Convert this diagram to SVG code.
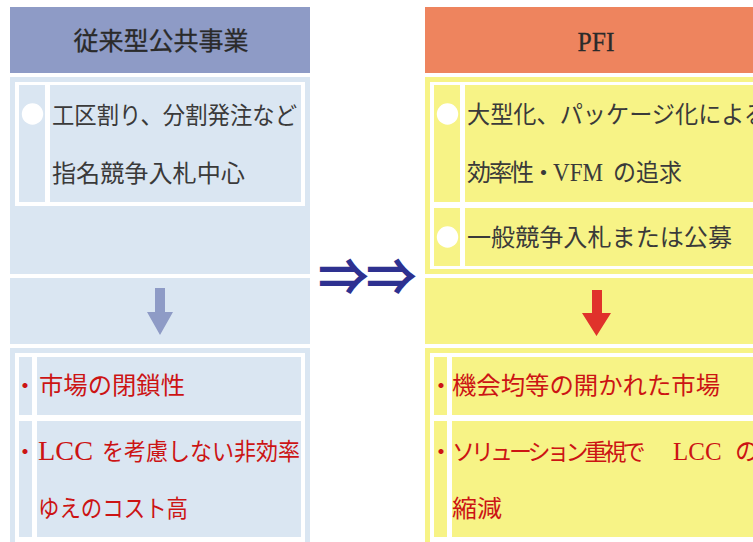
<svg xmlns="http://www.w3.org/2000/svg" width="753" height="542" viewBox="0 0 753 542">
<style>
.t{font-family:"Liberation Serif","Noto Sans CJK JP",serif;font-size:24px;fill:#3a3a3a}
.r{font-family:"Liberation Serif","Noto Sans CJK JP",serif;font-size:24px;fill:#cc1414}
.h{font-family:"Liberation Serif","Noto Sans CJK JP",serif;font-size:25px;fill:#2a2a2a;stroke:#2a2a2a;stroke-width:0.3}
.bl{fill:#dae6f2}
.ye{fill:#f7f386}
.w{fill:#ffffff}
</style>
<defs>
<clipPath id="cl"><rect x="37" y="421" width="264" height="116"/></clipPath>
</defs>
<rect width="753" height="542" fill="#ffffff"/>

<g id="left-header">
<rect x="10" y="7" width="300" height="66" fill="#8e9bc6"/>
<text class="h" x="161" y="50" text-anchor="middle">従来型公共事業</text>
</g>

<g id="left-current">
<rect class="bl" x="10" y="77" width="300" height="197"/>
<rect class="w" x="15" y="82" width="290" height="124"/>
<rect class="bl" x="19" y="85" width="26" height="117"/>
<rect class="bl" x="50" y="85" width="251" height="117"/>
<circle cx="32.5" cy="114" r="10.7" fill="#ffffff"/>
<text class="t" x="52" y="124" textLength="245" lengthAdjust="spacingAndGlyphs">工区割り、分割発注など</text>
<text class="t" x="52" y="182" textLength="193" lengthAdjust="spacingAndGlyphs">指名競争入札中心</text>
</g>

<g id="left-arrow-panel">
<rect class="bl" x="10" y="278" width="300" height="66"/>
<path d="M155,288 H165 V312 H173 L160,335 L147,312 H155 Z" fill="#8e9bc6"/>
</g>

<g id="left-result">
<rect class="bl" x="10" y="348" width="300" height="194"/>
<rect class="w" x="15" y="353" width="290" height="189"/>
<rect class="bl" x="19" y="357" width="13" height="58"/>
<rect class="bl" x="37" y="357" width="264" height="58"/>
<rect class="bl" x="19" y="421" width="13" height="116"/>
<rect class="bl" x="37" y="421" width="264" height="116"/>
<text class="r" x="25" y="394" text-anchor="middle">・</text>
<text class="r" x="39" y="394" textLength="146" lengthAdjust="spacingAndGlyphs">市場の閉鎖性</text>
<text class="r" x="25" y="460" text-anchor="middle">・</text>
<g clip-path="url(#cl)">
<text class="r" x="38" y="460" style="font-size:27px" textLength="55" lengthAdjust="spacingAndGlyphs">LCC</text>
<text class="r" x="102" y="460" textLength="198" lengthAdjust="spacingAndGlyphs">を考慮しない非効率</text>
</g>
<text class="r" x="38" y="517" textLength="150" lengthAdjust="spacingAndGlyphs">ゆえのコスト高</text>
</g>

<g id="connectors">
<text x="367" y="294" text-anchor="middle" font-family="Noto Sans CJK JP, sans-serif" font-size="48" fill="#2e3190" stroke="#2e3190" stroke-width="2">⇒⇒</text>
</g>

<g id="right-header">
<rect x="425" y="7" width="328" height="66" fill="#ee845e"/>
<text class="h" x="596" y="51" text-anchor="middle" style="font-size:28px" textLength="37" lengthAdjust="spacingAndGlyphs">PFI</text>
</g>

<g id="right-current">
<rect class="ye" x="425" y="77" width="328" height="197"/>
<rect class="w" x="430" y="82" width="323" height="187"/>
<rect class="ye" x="434" y="85" width="26" height="117"/>
<rect class="ye" x="465" y="85" width="288" height="117"/>
<rect class="ye" x="434" y="208" width="26" height="58"/>
<rect class="ye" x="465" y="208" width="288" height="58"/>
<circle cx="447.5" cy="114" r="10.7" fill="#ffffff"/>
<circle cx="447.5" cy="237" r="10.7" fill="#ffffff"/>
<text class="t" x="467" y="123" textLength="300" lengthAdjust="spacingAndGlyphs">大型化、パッケージ化による</text>
<text class="t" x="467" y="181" style="letter-spacing:-2.5px">効率性・</text>
<text class="t" x="553" y="181" style="font-size:26px" textLength="50" lengthAdjust="spacingAndGlyphs">VFM</text>
<text class="t" x="613" y="181" textLength="69" lengthAdjust="spacingAndGlyphs">の追求</text>
<text class="t" x="467" y="246" textLength="265" lengthAdjust="spacingAndGlyphs">一般競争入札または公募</text>
</g>

<g id="right-arrow-panel">
<rect class="ye" x="425" y="278" width="328" height="66"/>
<path d="M592,290 H602 V313 H611 L596.5,336 L582,313 H592 Z" fill="#e0322b"/>
</g>

<g id="right-result">
<rect class="ye" x="425" y="348" width="328" height="194"/>
<rect class="w" x="430" y="353" width="323" height="189"/>
<rect class="ye" x="434" y="357" width="13" height="58"/>
<rect class="ye" x="452" y="357" width="301" height="58"/>
<rect class="ye" x="434" y="421" width="13" height="116"/>
<rect class="ye" x="452" y="421" width="301" height="116"/>
<text class="r" x="441" y="394" text-anchor="middle">・</text>
<text class="r" x="452" y="394" textLength="268" lengthAdjust="spacingAndGlyphs">機会均等の開かれた市場</text>
<text class="r" x="441" y="460" text-anchor="middle">・</text>
<text class="r" x="452" y="460" style="font-size:23px;letter-spacing:-4px">ソリューション重視で</text>
<text class="r" x="673" y="460" style="font-size:25px">LCC</text>
<text class="r" x="735" y="460">の</text>
<text class="r" x="452" y="517" textLength="50" lengthAdjust="spacingAndGlyphs">縮減</text>
</g>
</svg>
